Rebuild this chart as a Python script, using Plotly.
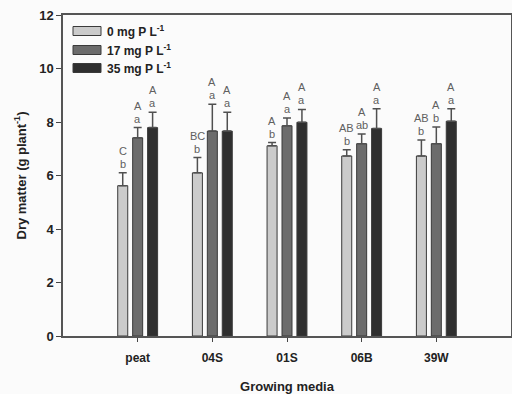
import plotly.graph_objects as go

categories = ["peat", "04S", "01S", "06B", "39W"]
series_names = ["0 mg P L<sup>-1</sup>", "17 mg P L<sup>-1</sup>", "35 mg P L<sup>-1</sup>"]
means_0 = [5.62, 6.10, 7.11, 6.73, 6.73]
means_17 = [7.41, 7.66, 7.86, 7.19, 7.19]
means_35 = [7.79, 7.66, 7.99, 7.76, 8.03]
err_0 = [0.48, 0.57, 0.12, 0.23, 0.60]
err_17 = [0.38, 1.00, 0.29, 0.36, 0.62]
err_35 = [0.57, 0.70, 0.48, 0.74, 0.47]
upper_0 = ["C", "BC", "A", "AB", "AB"]
upper_17 = ["A", "A", "A", "A", "A"]
upper_35 = ["A", "A", "A", "A", "A"]
lower_0 = ["b", "b", "b", "b", "b"]
lower_17 = ["a", "a", "a", "ab", "b"]
lower_35 = ["a", "a", "a", "a", "a"]

colors = ["#cbcbcb", "#6c6c6c", "#2f2f2f"]
FONT = "Arial, Liberation Sans, sans-serif"

means = [means_0, means_17, means_35]
errs = [err_0, err_17, err_35]
uppers = [upper_0, upper_17, upper_35]
lowers = [lower_0, lower_17, lower_35]
offsets = [-0.2, 0.0, 0.2]
xidx = list(range(len(categories)))

fig = go.Figure()
for k in range(3):
    fig.add_trace(go.Bar(
        x=xidx, y=means[k], name=series_names[k],
        marker=dict(color=colors[k], line=dict(color="#3a3a3a", width=1)),
        error_y=dict(type="data", array=errs[k], arrayminus=[0]*5, symmetric=False,
                     color="#505050", thickness=1.5, width=4),
        showlegend=False,
    ))

annotations = []
for k in range(3):
    for i in xidx:
        top = means[k][i] + errs[k][i]
        xpos = i + offsets[k]
        annotations.append(dict(x=xpos, y=top, xref="x", yref="y", text=lowers[k][i],
                                showarrow=False, yanchor="middle", yshift=9,
                                font=dict(family=FONT, size=11, color="#606060")))
        annotations.append(dict(x=xpos, y=top, xref="x", yref="y", text=uppers[k][i],
                                showarrow=False, yanchor="middle", yshift=22,
                                font=dict(family=FONT, size=11, color="#606060")))

# legend drawn manually (wide swatches)
W, H = 512, 394
ml, mr, mt, mb = 63, 1, 15, 58
pw, ph = W - ml - mr, H - mt - mb
def px(xp):
    return (xp - ml) / pw
def py(yp):
    return 1 - (yp - mt) / ph

shapes = []
legend_rows = [31, 50, 68]
for k in range(3):
    yc = legend_rows[k]
    shapes.append(dict(type="rect", xref="paper", yref="paper",
                       x0=px(73), x1=px(101), y0=py(yc + 4.5), y1=py(yc - 4.5),
                       fillcolor=colors[k], line=dict(color="#3a3a3a", width=1)))
    annotations.append(dict(x=px(105), y=py(yc), xref="paper", yref="paper",
                            text="<b>" + series_names[k] + "</b>", showarrow=False,
                            xanchor="left", yanchor="middle",
                            font=dict(family=FONT, size=12, color="#222222")))

fig.update_layout(
    width=W, height=H,
    margin=dict(l=ml, r=mr, t=mt, b=mb, autoexpand=False),
    paper_bgcolor="#fbfbfb", plot_bgcolor="#fbfbfb",
    barmode="group", bargap=0.4, bargroupgap=0.33,
    annotations=annotations, shapes=shapes,
    font=dict(family=FONT, color="#222222"),
    xaxis=dict(range=[-1, 5], tickvals=xidx, automargin=False,
               ticktext=["<b>" + c + "</b>" for c in categories],
               tickfont=dict(size=12, family=FONT, color="#222222"),
               ticks="outside", ticklen=4, tickcolor="#444444", ticklabelstandoff=6,
               showline=True, linecolor="#555555", linewidth=1.5, mirror=True,
               showgrid=False, zeroline=False,
               title=dict(text="<b>Growing media</b>", font=dict(size=13, family=FONT), standoff=22)),
    yaxis=dict(range=[0, 12], tickvals=[0, 2, 4, 6, 8, 10, 12], automargin=False,
               ticktext=["<b>%d</b>" % v for v in [0, 2, 4, 6, 8, 10, 12]],
               tickfont=dict(size=13, family=FONT, color="#222222"),
               ticks="outside", ticklen=5, tickcolor="#444444",
               showline=True, linecolor="#555555", linewidth=1.5, mirror=True,
               showgrid=False, zeroline=False,
               title=dict(text="<b>Dry matter (g plant<sup>-1</sup>)</b>",
                          font=dict(size=13, family=FONT), standoff=10)),
)

fig.write_html("out.html", config={"displayModeBar": False},
               post_script="document.body.style.margin='0';document.body.style.overflow='hidden';")
